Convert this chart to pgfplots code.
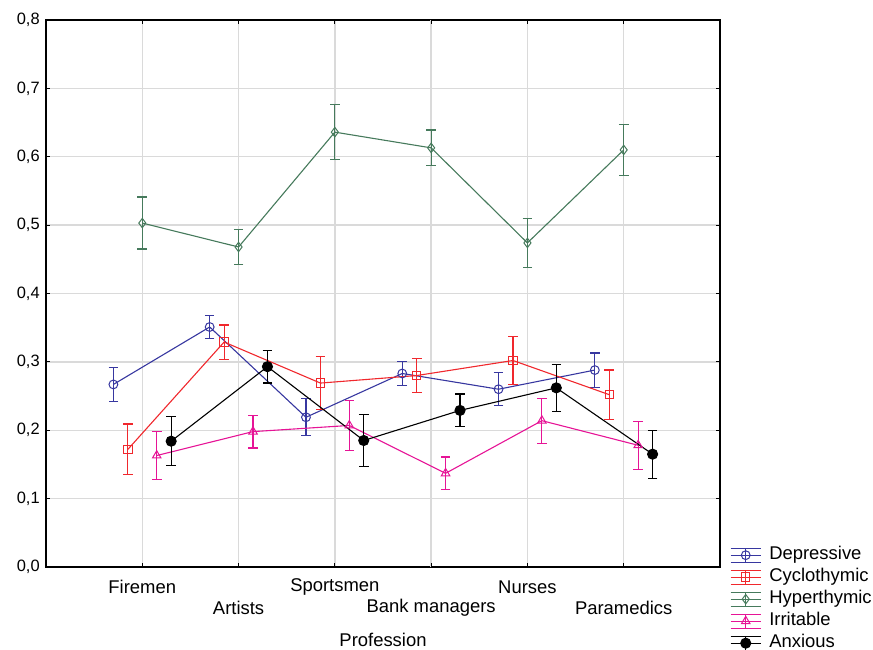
\documentclass[border=0pt]{standalone}
\usepackage{fontspec}
\setmainfont{Liberation Sans}
\usepackage{pgfplots}
\pgfplotsset{compat=1.18}
\usepackage{pgfplotstable}

\definecolor{cdep}{RGB}{55,55,160}
\definecolor{ccyc}{RGB}{240,40,45}
\definecolor{chyp}{RGB}{70,122,92}
\definecolor{cirr}{RGB}{230,20,150}
\definecolor{cgrid}{RGB}{218,218,218}

% x, mean, error (offset around the category position)
\pgfplotstableread{
x y e
0.70 0.267 0.025
1.70 0.351 0.017
2.70 0.219 0.027
3.70 0.283 0.017
4.70 0.260 0.024
5.70 0.288 0.025
}\depressive
\pgfplotstableread{
x y e
0.85 0.172 0.037
1.85 0.329 0.025
2.85 0.269 0.039
3.85 0.280 0.025
4.85 0.302 0.035
5.85 0.252 0.036
}\cyclothymic
\pgfplotstableread{
x y e
1.00 0.503 0.038
2.00 0.468 0.026
3.00 0.636 0.040
4.00 0.613 0.026
5.00 0.474 0.036
6.00 0.610 0.037
}\hyperthymic
\pgfplotstableread{
x y e
1.15 0.163 0.035
2.15 0.198 0.024
3.15 0.207 0.037
4.15 0.137 0.024
5.15 0.214 0.033
6.15 0.178 0.035
}\irritable
\pgfplotstableread{
x y e
1.30 0.184 0.036
2.30 0.293 0.024
3.30 0.185 0.038
4.30 0.229 0.024
5.30 0.262 0.034
6.30 0.165 0.035
}\anxious

\pgfplotsset{
  errline/.style={
    line width=1.1bp,
    error bars/y dir=both, error bars/y explicit,
    error bars/error bar style={line width=1.2bp},
    error bars/error mark options={rotate=90, mark size=4.8bp, line width=1.2bp},
  },
  errlegend/.style={
    legend image code/.code={
      \draw[##1, mark=none] (0bp,-7bp)--(30bp,-7bp) (0bp,7bp)--(30bp,7bp)
        (0bp,0bp)--(30bp,0bp) (15bp,-7bp)--(15bp,7bp);
      \draw[##1] plot coordinates {(15bp,0bp)};
    }
  },
}

\begin{document}
\fontsize{18.5}{22}\selectfont
\begin{tikzpicture}
\begin{axis}[
  scale only axis,
  width=674bp, height=547bp,
  xmin=0, xmax=7, ymin=0, ymax=0.8,
  xtick={1,3,5},
  xticklabels={Firemen, Sportsmen, Nurses},
  extra x ticks={2,4,6},
  extra x tick labels={Artists, Bank managers, Paramedics},
  extra x tick style={grid=major, xticklabel style={yshift=-21bp}},
  xticklabel style={anchor=center, yshift=-20bp, font=\fontsize{18.5}{22}\selectfont},
  ytick={0,0.1,...,0.8},
  yticklabel style={font=\fontsize{16.5}{20}\selectfont, /pgf/number format/.cd, fixed, fixed zerofill, precision=1, use comma, assume math mode=true},
  grid=major,
  major grid style={cgrid, line width=1.3bp},
  axis line style={line width=1.2bp},
  major tick length=4bp,
  tick style={black, line width=1bp},
  xlabel={Profession},
  xlabel style={at={(axis description cs:0.5,0)}, anchor=center, yshift=-73bp, font=\fontsize{18.5}{22}\selectfont},
  legend style={at={(axis description cs:1,0)}, anchor=north west,
    xshift=7bp, yshift=25bp, draw=none, fill=none,
    font=\fontsize{18.5}{22}\selectfont,
    nodes={text height=12bp, text depth=4bp, inner ysep=3bp, inner xsep=3bp},
    /tikz/every odd column/.append style={column sep=5bp}},
  legend cell align=left,
  clip=false,
]
\addplot[cdep, errline, errlegend, mark=o, mark size=4.4bp, mark options={line width=1bp}]
  table[x=x, y=y, y error=e] {\depressive};
\addlegendentry{Depressive}
\addplot[ccyc, errline, errlegend, mark=square, mark size=4.2bp, mark options={line width=1bp}]
  table[x=x, y=y, y error=e] {\cyclothymic};
\addlegendentry{Cyclothymic}
\addplot[chyp, errline, errlegend, mark=diamond, mark size=4.7bp, mark options={line width=1bp}]
  table[x=x, y=y, y error=e] {\hyperthymic};
\addlegendentry{Hyperthymic}
\addplot[cirr, errline, errlegend, mark=triangle, mark size=4.9bp, mark options={line width=1bp}]
  table[x=x, y=y, y error=e] {\irritable};
\addlegendentry{Irritable}
\addplot[black, errline, errlegend, mark=*, mark size=5bp]
  table[x=x, y=y, y error=e] {\anxious};
\addlegendentry{Anxious}
\coordinate (sw) at (rel axis cs:0,0);
\coordinate (ne) at (rel axis cs:1,1);
\end{axis}
\pgfresetboundingbox
\path ([xshift=-46bp,yshift=-83bp]sw) rectangle ([xshift=153bp,yshift=20bp]ne);
\end{tikzpicture}
\end{document}
